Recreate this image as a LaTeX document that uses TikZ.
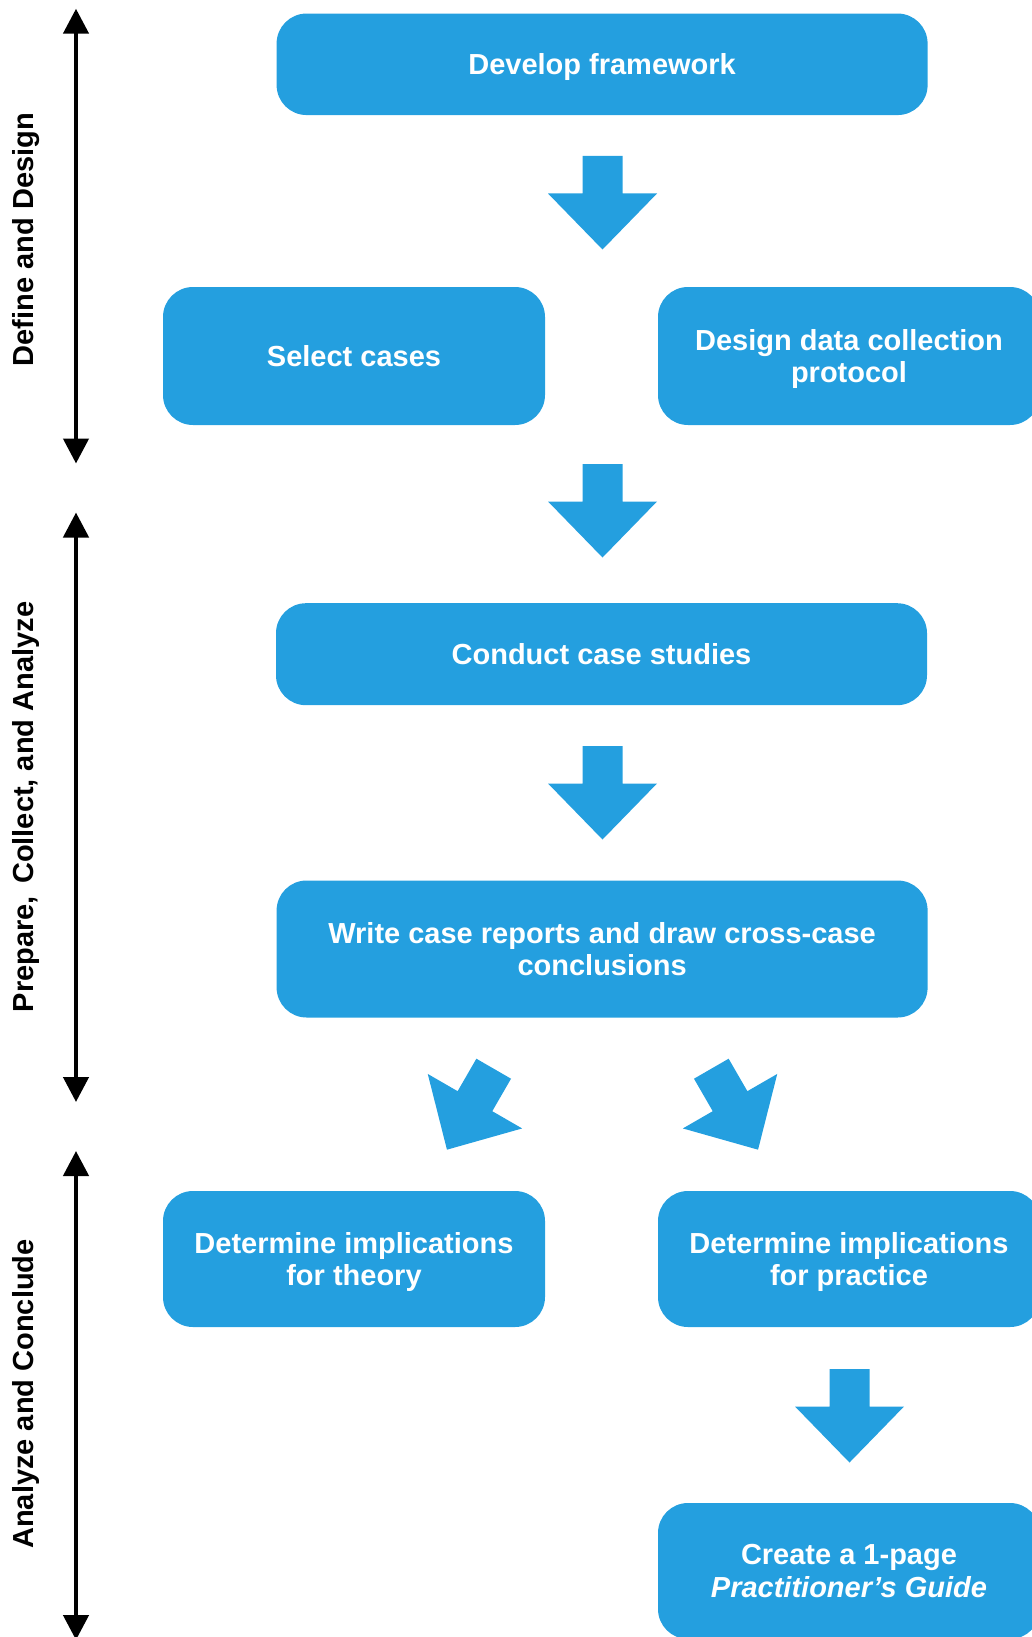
\documentclass[tikz,border=0pt]{standalone}
\usepackage{fontspec}
\setmainfont{Liberation Sans}
\usetikzlibrary{arrows.meta}
\definecolor{flowblue}{RGB}{36,159,223}
\begin{document}
\begin{tikzpicture}[x=1pt,y=-1pt,
  stepbox/.style={fill=flowblue, rounded corners=30pt, text=white,
    font=\fontsize{29}{32.5}\selectfont\bfseries, align=center, inner sep=0pt,
    text depth=0pt},
  wide/.style={minimum width=651pt, minimum height=#1},
  narrow/.style={minimum width=382pt, minimum height=#1},
  phase/.style={font=\fontsize{29}{32}\selectfont\bfseries, rotate=90},
  span/.style={line width=4.5pt,
    {Triangle[length=25pt,width=25pt]}-{Triangle[length=25pt,width=25pt]}},
  downblock/.pic={\fill[flowblue] (-20,0) -- (20,0) -- (20,37.5) -- (54.5,37.5)
    -- (0,93.5) -- (-54.5,37.5) -- (-20,37.5) -- cycle;}
]
\useasboundingbox (0,0) rectangle (1032,1637);
\clip (0,0) rectangle (1032,1637);

% process steps
\node[stepbox, wide=101.5pt] (dev) at (602.1,64.3) {Develop framework};
\node[stepbox, narrow=138pt] (sel) at (354,356) {Select cases};
\node[stepbox, narrow=138pt] (dsg) at (849,356) {Design data collection\\protocol};
\node[stepbox, wide=102pt] (con) at (601.5,654.2) {Conduct case studies};
\node[stepbox, wide=137pt] (wri) at (602.1,949) {Write case reports and draw cross-case\\conclusions};
\node[stepbox, narrow=136pt] (the) at (354,1259) {Determine implications\\for theory};
\node[stepbox, narrow=136pt] (pra) at (849,1259) {Determine implications\\for practice};
\node[stepbox, narrow=136pt] (cre) at (849,1571) {Create a 1-page\\\textit{Practitioner’s Guide}};

% block arrows between the steps
\pic at (602.5,156) {downblock};
\pic at (602.5,464) {downblock};
\pic at (602.5,746) {downblock};
\pic[rotate=-30] at (493.7,1068.7) {downblock};
\pic[rotate=30] at (711.3,1068.7) {downblock};
\pic at (849.5,1369) {downblock};

% phase spans on the left
\coordinate (p1t) at (76,8.7);
\coordinate (p1b) at (76,463.5);
\coordinate (p2t) at (76,512.5);
\coordinate (p2b) at (76,1102);
\coordinate (p3t) at (76,1151);
\coordinate (p3b) at (76,1640);
\draw[span] (p1t) -- (p1b);
\draw[span] (p2t) -- (p2b);
\draw[span] (p3t) -- (p3b);

\node[phase] (l1) at (25.7,239.7) {Define and Design};
\node[phase] (l2) at (25.7,807) {Prepare,\hspace{0.15em} Collect, and Analyze};
\node[phase] (l3) at (25.7,1394) {Analyze and Conclude};
\end{tikzpicture}
\end{document}
